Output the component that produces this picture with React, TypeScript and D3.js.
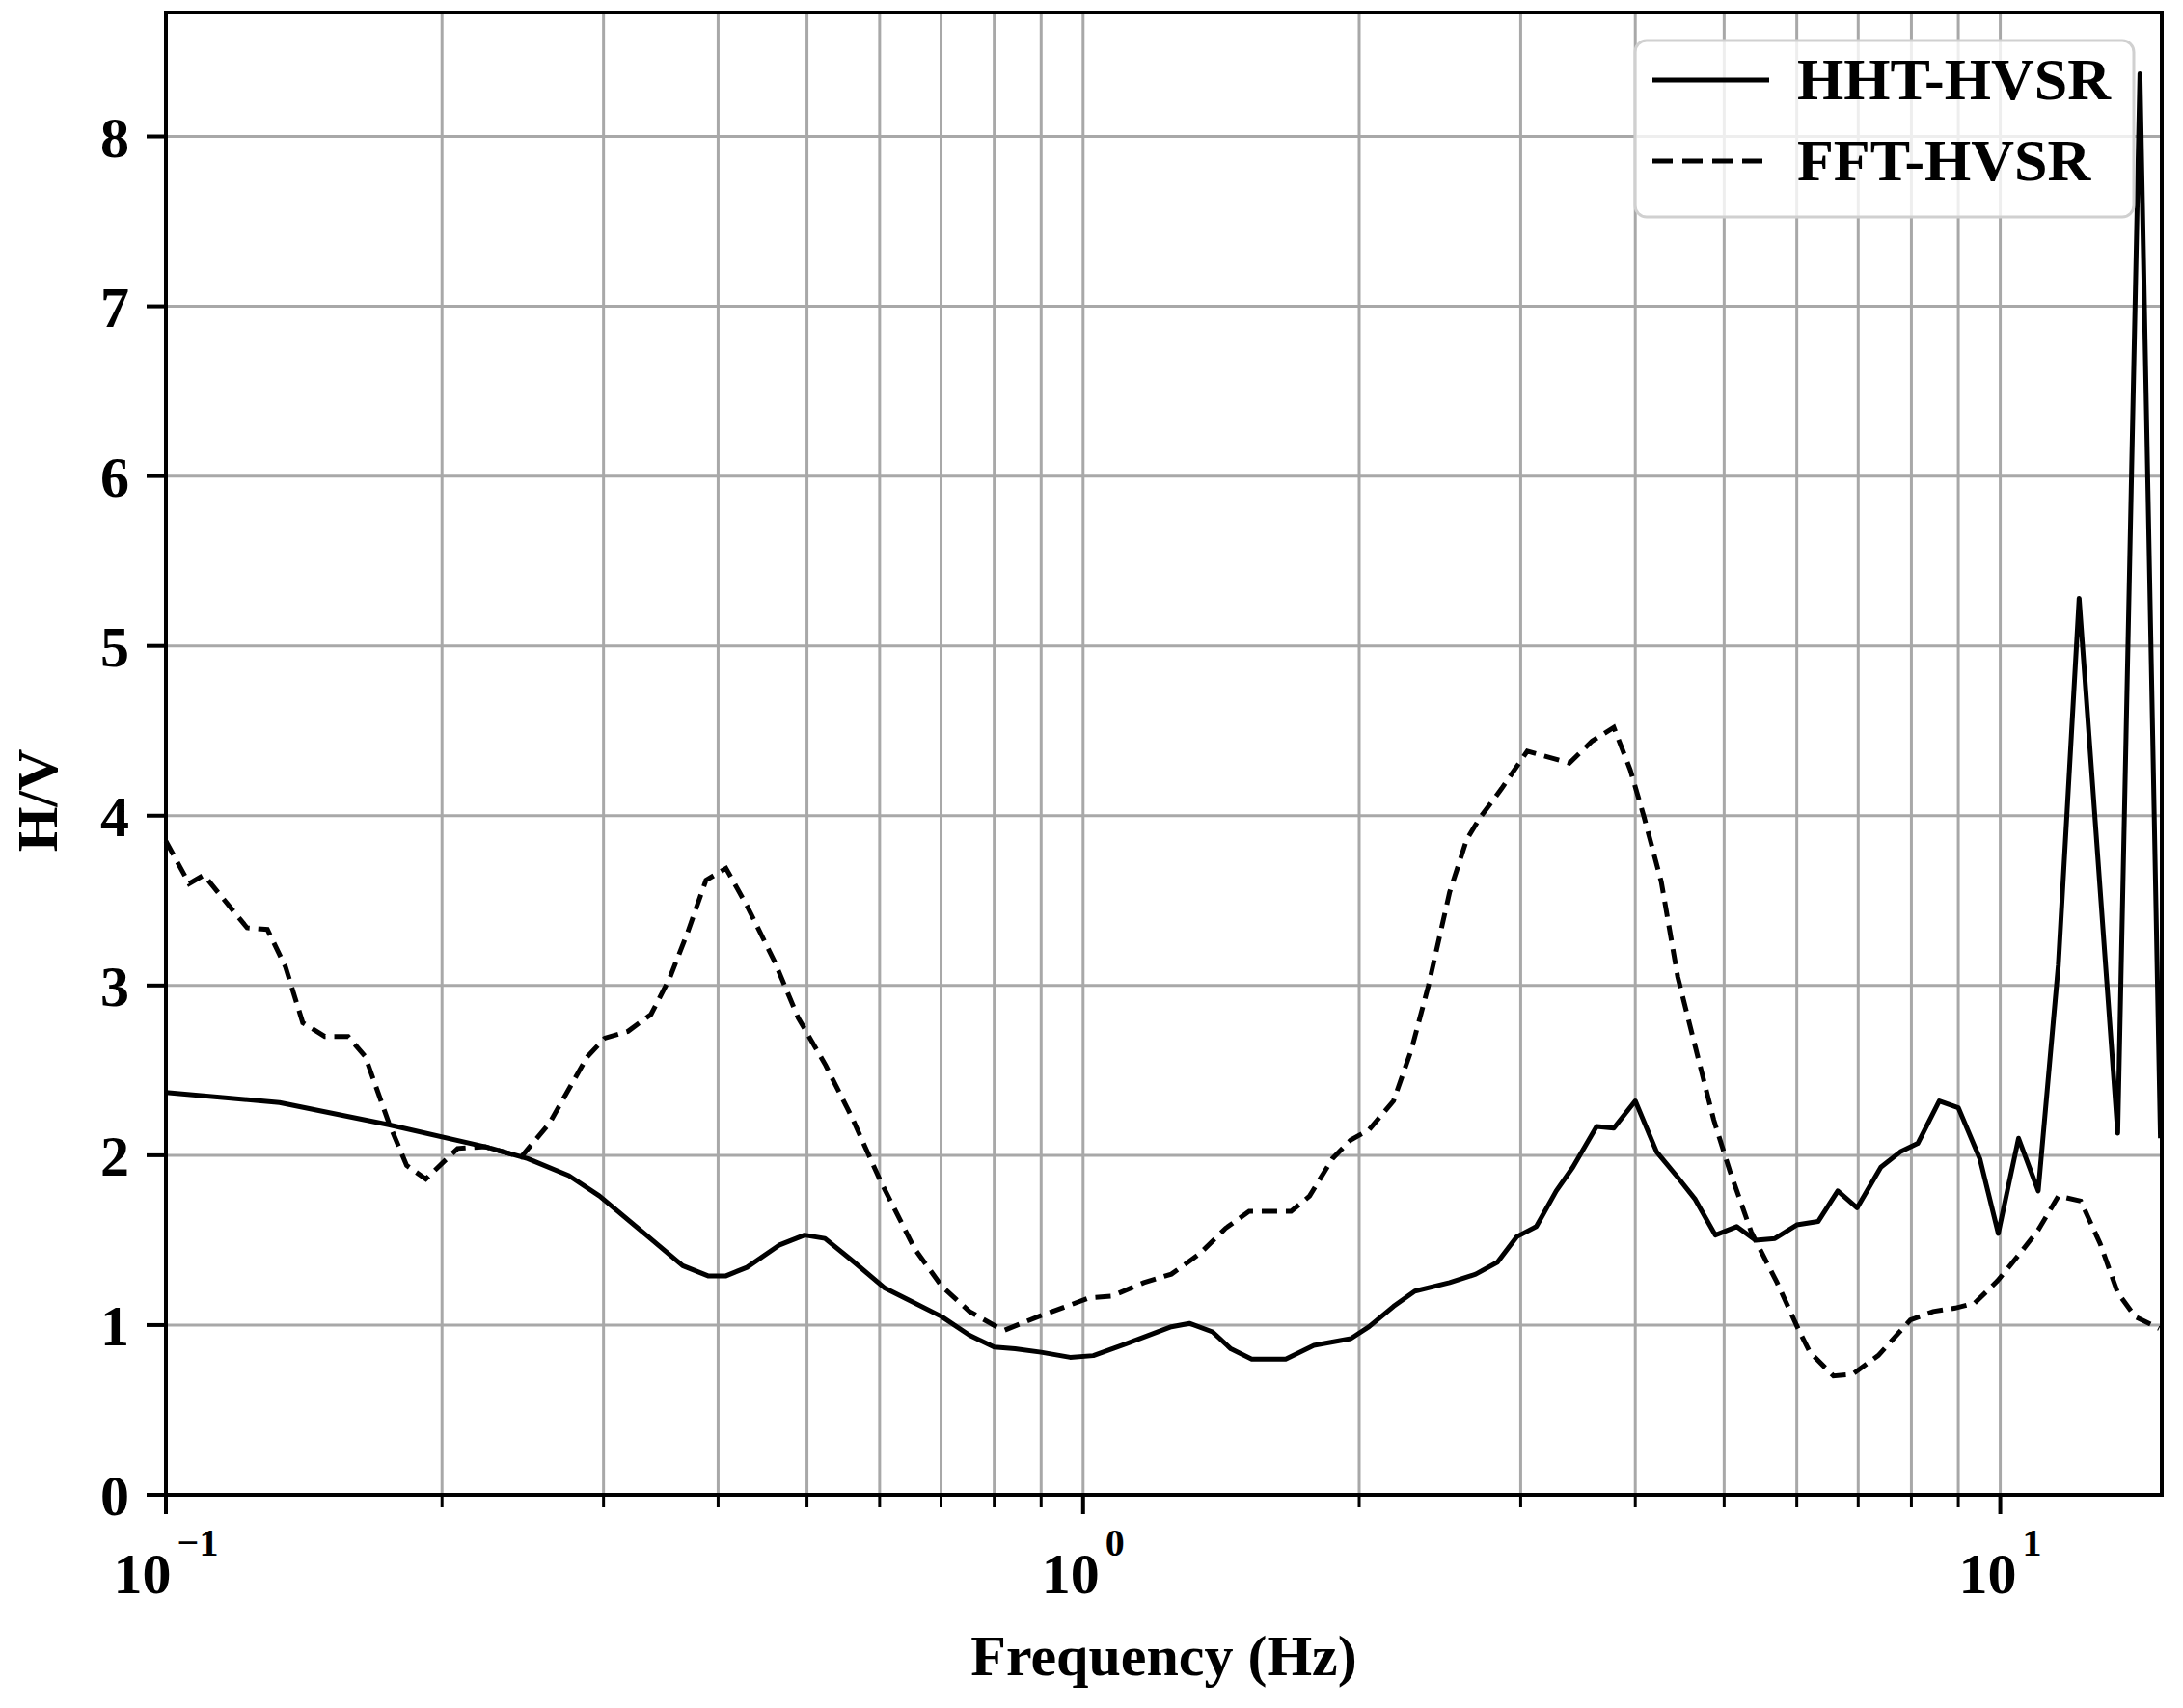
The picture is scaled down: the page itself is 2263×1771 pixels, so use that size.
import React, { useEffect, useRef } from "react";
import * as d3 from "d3";

const WIDTH = 2263;
const HEIGHT = 1771;
const MARGIN = { TOP: 13, BOTTOM: 221, LEFT: 172, RIGHT: 22 };
const INNER_W = WIDTH - MARGIN.LEFT - MARGIN.RIGHT;
const INNER_H = HEIGHT - MARGIN.TOP - MARGIN.BOTTOM;
const FONT = "'Liberation Serif', 'Times New Roman', serif";

// HHT-HVSR curve (solid)
const hhtFreq = [
  0.1, 0.133, 0.175, 0.223, 0.248, 0.275, 0.297, 0.334, 0.366, 0.39, 0.408, 0.43,
  0.466, 0.497, 0.523, 0.56, 0.607, 0.655, 0.701, 0.752, 0.8, 0.843, 0.9, 0.968,
  1.026, 1.114, 1.248, 1.306, 1.384, 1.449, 1.527, 1.663, 1.785, 1.958, 2.05, 2.18,
  2.3, 2.51, 2.68, 2.83, 2.97, 3.12, 3.28, 3.42, 3.63, 3.79, 4.0, 4.22, 4.45, 4.65,
  4.89, 5.16, 5.41, 5.68, 6.0, 6.33, 6.65, 6.98, 7.41, 7.78, 8.13, 8.58, 9.0, 9.5,
  9.95, 10.47, 11.0, 11.57, 12.19, 13.43, 14.2, 14.95,
];
const hhtValue = [
  2.37, 2.31, 2.18, 2.05, 1.98, 1.88, 1.76, 1.53, 1.35, 1.29, 1.29, 1.34,
  1.47, 1.53, 1.51, 1.38, 1.22, 1.13, 1.05, 0.94, 0.87, 0.86, 0.84, 0.81,
  0.82, 0.89, 0.99, 1.01, 0.96, 0.86, 0.8, 0.8, 0.88, 0.92, 0.99, 1.11,
  1.2, 1.25, 1.3, 1.37, 1.52, 1.58, 1.79, 1.93, 2.17, 2.16, 2.32, 2.02, 1.87, 1.74,
  1.53, 1.58, 1.5, 1.51, 1.59, 1.61, 1.79, 1.69, 1.93, 2.02, 2.07, 2.32, 2.28, 1.98,
  1.54, 2.1, 1.79, 3.12, 5.28, 2.13, 8.37, 2.1,
];

// FFT-HVSR curve (dashed)
const fftFreq = [
  0.1, 0.106, 0.11, 0.1226, 0.129, 0.135, 0.141, 0.149, 0.158, 0.165, 0.175, 0.183,
  0.192, 0.208, 0.223, 0.244, 0.262, 0.288, 0.301, 0.319, 0.338, 0.354, 0.371, 0.388,
  0.408, 0.43, 0.461, 0.489, 0.524, 0.56, 0.601, 0.655, 0.701, 0.752, 0.805, 0.821,
  0.894, 0.959, 1.015, 1.074, 1.165, 1.248, 1.34, 1.43, 1.517, 1.686, 1.766, 1.87,
  1.958, 2.05, 2.18, 2.28, 2.38, 2.51, 2.62, 2.71, 2.86, 3.05, 3.39, 3.59, 3.79,
  3.95, 4.09, 4.27, 4.45, 4.65, 4.87, 5.07, 5.35, 5.71, 6.03, 6.2, 6.58, 6.9, 7.36,
  7.98, 8.45, 8.93, 9.38, 9.93, 10.5, 11.0, 11.57, 12.24, 12.85, 13.43, 14.03, 14.9,
];
const fftValue = [
  3.85, 3.6, 3.65, 3.34, 3.33, 3.11, 2.78, 2.7, 2.7, 2.58, 2.19, 1.94,
  1.86, 2.04, 2.05, 1.99, 2.19, 2.58, 2.69, 2.73, 2.83, 3.04, 3.32, 3.62,
  3.69, 3.47, 3.14, 2.81, 2.53, 2.22, 1.85, 1.45, 1.23, 1.08, 0.99, 0.97,
  1.05, 1.11, 1.16, 1.17, 1.25, 1.3, 1.42, 1.57, 1.67, 1.67, 1.76, 1.98,
  2.09, 2.15, 2.32, 2.62, 3.0, 3.55, 3.86, 3.99, 4.16, 4.38, 4.31, 4.44, 4.52,
  4.27, 3.99, 3.61, 3.05, 2.64, 2.21, 1.91, 1.55, 1.25, 0.97, 0.84, 0.7, 0.71, 0.82,
  1.03, 1.08, 1.1, 1.13, 1.26, 1.42, 1.56, 1.76, 1.73, 1.48, 1.19, 1.05, 0.98,
];

const yTicks = [0, 1, 2, 3, 4, 5, 6, 7, 8];
const xMajorTicks = [0.1, 1, 10];
const xExponents = ["\u22121", "0", "1"];
const seriesNames = ["HHT-HVSR", "FFT-HVSR"];

const App = () => {
  const ref = useRef<SVGSVGElement>(null);

  useEffect(() => {
    const svg = d3.select(ref.current);
    svg.selectAll("*").remove();

    const x = d3.scaleLog().domain([0.1, 15]).range([0, INNER_W]);
    const y = d3.scaleLinear().domain([0, 8.73]).range([INNER_H, 0]);

    const g = svg
      .append("g")
      .attr("transform", `translate(${MARGIN.LEFT},${MARGIN.TOP})`);

    // grid
    const gridTicks = x.ticks().filter((t) => t > 0.1 && t <= 15);
    g.selectAll(".vgrid")
      .data(gridTicks)
      .enter()
      .append("line")
      .attr("x1", (d) => x(d))
      .attr("x2", (d) => x(d))
      .attr("y1", 0)
      .attr("y2", INNER_H)
      .attr("stroke", "#a8a8a8")
      .attr("stroke-width", 3);
    g.selectAll(".hgrid")
      .data(yTicks.filter((t) => t > 0))
      .enter()
      .append("line")
      .attr("x1", 0)
      .attr("x2", INNER_W)
      .attr("y1", (d) => y(d))
      .attr("y2", (d) => y(d))
      .attr("stroke", "#a8a8a8")
      .attr("stroke-width", 3);

    // curves
    const line = d3
      .line<[number, number]>()
      .x((d) => x(d[0]))
      .y((d) => y(d[1]));
    const hht = hhtFreq.map((f, i) => [f, hhtValue[i]] as [number, number]);
    const fft = fftFreq.map((f, i) => [f, fftValue[i]] as [number, number]);

    g.append("path")
      .attr("d", line(fft))
      .attr("fill", "none")
      .attr("stroke", "#000")
      .attr("stroke-width", 5)
      .attr("stroke-dasharray", "16 9");
    g.append("path")
      .attr("d", line(hht))
      .attr("fill", "none")
      .attr("stroke", "#000")
      .attr("stroke-width", 5)
      .attr("stroke-linejoin", "round");

    // frame
    g.append("rect")
      .attr("width", INNER_W)
      .attr("height", INNER_H)
      .attr("fill", "none")
      .attr("stroke", "#000")
      .attr("stroke-width", 4);

    // y ticks
    g.selectAll(".ytick")
      .data(yTicks)
      .enter()
      .append("line")
      .attr("x1", -20)
      .attr("x2", 0)
      .attr("y1", (d) => y(d))
      .attr("y2", (d) => y(d))
      .attr("stroke", "#000")
      .attr("stroke-width", 4);
    g.selectAll(".ylabel")
      .data(yTicks)
      .enter()
      .append("text")
      .attr("x", -38)
      .attr("y", (d) => y(d))
      .attr("dy", "0.35em")
      .attr("text-anchor", "end")
      .attr("font-family", FONT)
      .attr("font-weight", "bold")
      .attr("font-size", 60)
      .text((d) => d);

    // x ticks
    g.selectAll(".xminor")
      .data(gridTicks.filter((t) => !xMajorTicks.includes(t)))
      .enter()
      .append("line")
      .attr("x1", (d) => x(d))
      .attr("x2", (d) => x(d))
      .attr("y1", INNER_H)
      .attr("y2", INNER_H + 13)
      .attr("stroke", "#000")
      .attr("stroke-width", 3);
    g.selectAll(".xmajor")
      .data(xMajorTicks)
      .enter()
      .append("line")
      .attr("x1", (d) => x(d))
      .attr("x2", (d) => x(d))
      .attr("y1", INNER_H)
      .attr("y2", INNER_H + 20)
      .attr("stroke", "#000")
      .attr("stroke-width", 4);
    const xl = g
      .selectAll(".xlabel")
      .data(xMajorTicks)
      .enter()
      .append("text")
      .attr("x", (d) => x(d))
      .attr("y", INNER_H + 102)
      .attr("text-anchor", "middle")
      .attr("font-family", FONT)
      .attr("font-weight", "bold")
      .attr("font-size", 60);
    xl.append("tspan").text("10");
    xl.append("tspan")
      .attr("dx", 6)
      .attr("dy", -39)
      .attr("font-size", 40)
      .text((d, i) => xExponents[i]);

    // axis titles
    g.append("text")
      .attr("x", INNER_W / 2)
      .attr("y", INNER_H + 187)
      .attr("text-anchor", "middle")
      .attr("font-family", FONT)
      .attr("font-weight", "bold")
      .attr("font-size", 60)
      .text("Frequency (Hz)");
    g.append("text")
      .attr("transform", `translate(${39 - MARGIN.LEFT + 20},${830 - MARGIN.TOP}) rotate(-90)`)
      .attr("text-anchor", "middle")
      .attr("font-family", FONT)
      .attr("font-weight", "bold")
      .attr("font-size", 60)
      .text("H/V");

    // legend
    const lg = g.append("g").attr("transform", `translate(${1695 - MARGIN.LEFT},${42 - MARGIN.TOP})`);
    lg.append("rect")
      .attr("width", 517)
      .attr("height", 183)
      .attr("rx", 12)
      .attr("fill", "rgba(255,255,255,0.8)")
      .attr("stroke", "#d0d0d0")
      .attr("stroke-width", 3);
    seriesNames.forEach((name, i) => {
      const yy = 41 + i * 84;
      lg.append("line")
        .attr("x1", 18)
        .attr("x2", 139)
        .attr("y1", yy)
        .attr("y2", yy)
        .attr("stroke", "#000")
        .attr("stroke-width", 5)
        .attr("stroke-dasharray", i === 1 ? "21 10" : null);
      lg.append("text")
        .attr("x", 168)
        .attr("y", yy + 20)
        .attr("font-family", FONT)
        .attr("font-weight", "bold")
        .attr("font-size", 62)
        .text(name);
    });
  }, []);

  return (
    <div style={{ position: "absolute", left: 0, top: 0 }}>
      <svg ref={ref} width={WIDTH} height={HEIGHT} style={{ display: "block", background: "#fff" }} />
    </div>
  );
};

export default App;
